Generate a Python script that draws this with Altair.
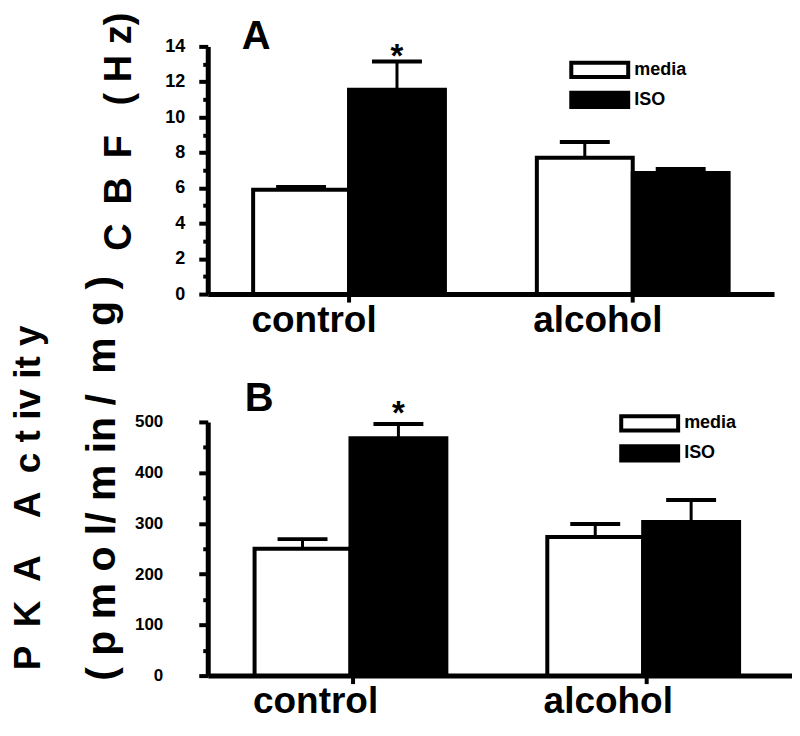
import altair as alt
import pandas as pd

# ---- data ----
groups = ["control", "control", "alcohol", "alcohol"]
conds = ["media", "ISO", "media", "ISO"]
group_order = ["control", "alcohol"]
cond_order = ["media", "ISO"]

cbf_mean = [5.9, 11.55, 7.7, 6.85]
cbf_err = [0.15, 1.6, 0.9, 0.22]
cbf_star = ["", "*", "", ""]
cbf_ticks = list(range(0, 15))

pka_mean = [250, 468, 273, 303]
pka_err = [19, 28, 26, 43]
pka_star = ["", "*", "", ""]
pka_ticks = list(range(0, 501, 50))

cbf_title = "C\u2002B\u2002F\u2002\u00A0(\u00A0H\u00A0z)"
pka_title1 = "P\u2002K\u2002A\u2003A\u2002c\u00A0t\u00A0iv\u00A0it\u00A0y"
pka_title2 = "(\u00A0p\u00A0m\u00A0o\u00A0l/\u00A0m\u00A0in\u00A0/\u2002m\u00A0g\u00A0)"
panel_letters = ["A", "B"]

FONT = "Liberation Sans"
BOX = "M-4,-1H4V1H-4Z"


def panel(mean, err, star, ticks, major, dmax, width, height, letter, lxy,
          ytitle, txy, tsize, ylab_size, ylab_pad, xlab_size, xlab_pad, xlab_off,
          leg_xy, star_dy, extra=None):
    df = pd.DataFrame({
        "group": groups, "cond": conds, "mean": mean,
        "top": [m + e for m, e in zip(mean, err)], "star": star,
    })
    xscale = alt.Scale(domain=group_order, paddingInner=0.324, paddingOuter=0.16)
    xaxis = alt.Axis(title=None, labelFont=FONT, labelFontSize=xlab_size,
                     labelFontWeight="bold", labelColor="black", labelAngle=0,
                     labelPadding=xlab_pad, labelOffset=xlab_off,
                     domainColor="black", domainWidth=5, tickColor="black",
                     tickWidth=4, tickSize=8, labelBaseline="top")
    xenc = alt.X("group:N", sort=group_order, scale=xscale, axis=xaxis)
    xoff = alt.XOffset("cond:N", sort=cond_order,
                       scale=alt.Scale(domain=cond_order, paddingInner=0, paddingOuter=0))
    yscale = alt.Scale(domain=[0, dmax], nice=False, zero=True)
    test = f"datum.value % {major} === 0"
    yaxis = alt.Axis(
        values=ticks,
        labelExpr=f"{test} ? datum.label : ''",
        tickSize={"condition": {"test": test, "value": 9}, "value": 5},
        tickWidth=4, tickColor="black", domainColor="black", domainWidth=5,
        labelFont=FONT, labelFontSize=ylab_size, labelFontWeight="bold",
        labelColor="black", labelPadding=ylab_pad, labelOverlap=False,
        labelFlush=False, grid=False,
        title=ytitle, titleFont=FONT, titleFontSize=tsize, titleFontWeight="bold",
        titleColor="black", titleAngle=270, titleAlign="center",
        titleBaseline="alphabetic", titleX=txy[0], titleY=txy[1],
    )
    legend = alt.Legend(
        title=None, orient="none", legendX=leg_xy[0], legendY=leg_xy[1],
        symbolType=BOX, symbolSize=203, symbolStrokeColor="black",
        symbolStrokeWidth=4, labelFont=FONT, labelFontSize=18,
        labelFontWeight="bold", labelColor="black", labelOffset=25,
        rowPadding=-1, padding=0,
    )
    bars = alt.Chart(df).mark_bar(stroke="black", strokeWidth=4, opacity=1).encode(
        x=xenc, xOffset=xoff,
        y=alt.Y("mean:Q", scale=yscale, axis=yaxis),
        fill=alt.Fill("cond:N", sort=cond_order,
                      scale=alt.Scale(domain=cond_order, range=["white", "black"]),
                      legend=legend),
    )
    rules = alt.Chart(df).mark_rule(color="black", strokeWidth=3).encode(
        x=xenc, xOffset=xoff,
        y=alt.Y("mean:Q", scale=yscale, axis=yaxis), y2="top:Q",
    )
    caps = alt.Chart(df).mark_tick(color="black", thickness=4, size=50,
                                   orient="horizontal", opacity=1).encode(
        x=xenc, xOffset=xoff, y=alt.Y("top:Q", scale=yscale, axis=yaxis),
    )
    stars = alt.Chart(df).mark_text(font=FONT, fontSize=33, fontWeight="bold",
                                    baseline="alphabetic", dy=star_dy,
                                    color="black").encode(
        x=xenc, xOffset=xoff, y=alt.Y("top:Q", scale=yscale, axis=yaxis),
        text="star:N",
    )
    ldf = pd.DataFrame({"t": [letter]})
    let = alt.Chart(ldf).mark_text(font=FONT, fontSize=40, fontWeight="bold",
                                   align="left", baseline="alphabetic",
                                   color="black").encode(
        x=alt.value(lxy[0]), y=alt.value(lxy[1]), text="t:N")
    layers = [bars, rules, caps, stars, let]
    if extra is not None:
        edf = pd.DataFrame({"t": [extra[0]]})
        layers.append(alt.Chart(edf).mark_text(
            font=FONT, fontSize=37, fontWeight="bold", align="center",
            baseline="alphabetic", angle=270, color="black").encode(
            x=alt.value(extra[1]), y=alt.value(extra[2]), text="t:N"))
    return alt.layer(*layers).properties(width=width, height=height)


pa = panel(cbf_mean, cbf_err, cbf_star, cbf_ticks, 2, 14, 567, 248,
           panel_letters[0], (34, 3), cbf_title, (-77, 85), 38, 18, 14, 37, 0, -35,
           (383, 14), 6)
pb = panel(pka_mean, pka_err, pka_star, pka_ticks, 100, 500, 585, 254,
           panel_letters[1], (37, -11), pka_title2, (-93, 56), 41, 17, 36, 37, 0, -38,
           (433, -8), 0, extra=(pka_title1, -168, 76))

chart = alt.vconcat(pa, pb, spacing=128, bounds="flush").resolve_scale(
    x="independent", y="independent", fill="independent"
).resolve_legend(fill="independent").configure_view(stroke=None).properties(
    background="white", padding={"left": 1, "top": 3, "right": 0, "bottom": 0})

chart.save("out.html", embed_options={"renderer": "svg", "actions": False})
